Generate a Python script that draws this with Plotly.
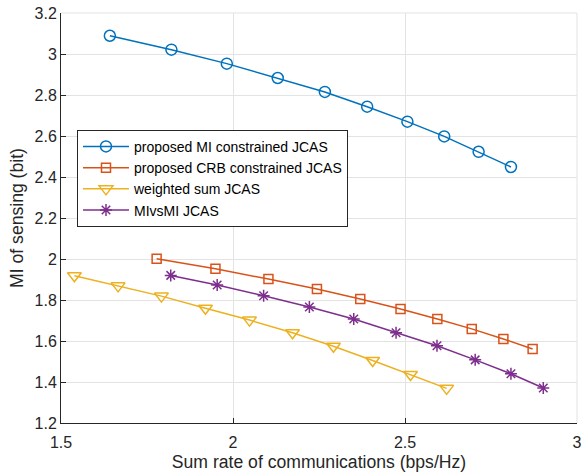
import plotly.graph_objects as go

# Sum rate of communications (bps/Hz) and MI of sensing (bit) per scheme
mi_rate = [1.642, 1.821, 1.982, 2.130, 2.267, 2.390, 2.507, 2.614, 2.714, 2.808]
mi_sense = [3.089, 3.021, 2.953, 2.883, 2.815, 2.743, 2.670, 2.598, 2.523, 2.449]

crb_rate = [1.778, 1.949, 2.103, 2.244, 2.370, 2.487, 2.594, 2.694, 2.786, 2.871]
crb_sense = [2.001, 1.952, 1.902, 1.854, 1.805, 1.756, 1.707, 1.659, 1.610, 1.561]

ws_rate = [1.539, 1.666, 1.792, 1.920, 2.048, 2.173, 2.292, 2.406, 2.516, 2.621]
ws_sense = [1.918, 1.869, 1.819, 1.760, 1.702, 1.640, 1.574, 1.505, 1.437, 1.369]

mvm_rate = [1.819, 1.954, 2.089, 2.222, 2.351, 2.474, 2.593, 2.704, 2.808, 2.902]
mvm_sense = [1.920, 1.873, 1.821, 1.766, 1.707, 1.640, 1.577, 1.508, 1.440, 1.371]

x_ticks = [1.5, 2, 2.5, 3]
x_labels = ["1.5", "2", "2.5", "3"]
y_ticks = [1.2, 1.4, 1.6, 1.8, 2.0, 2.2, 2.4, 2.6, 2.8, 3.0, 3.2]
y_labels = ["1.2", "1.4", "1.6", "1.8", "2", "2.2", "2.4", "2.6", "2.8", "3", "3.2"]

FONT = "Liberation Sans, Arial, sans-serif"
TXT = "#262626"
GRID = "#e3e3e3"

series = [
    ("proposed MI constrained JCAS", mi_rate, mi_sense, "#0072BD", "circle-open", 11),
    ("proposed CRB constrained JCAS", crb_rate, crb_sense, "#D95319", "square-open", 9),
    ("weighted sum JCAS", ws_rate, ws_sense, "#EDB120", "triangle-down-open", 12),
    ("MIvsMI JCAS", mvm_rate, mvm_sense, "#7E2F8E", "asterisk-open", 10),
]

fig = go.Figure()
for name, xs, ys, color, sym, size in series:
    fig.add_trace(go.Scatter(
        x=xs, y=ys, mode="lines+markers", name=name,
        line=dict(color=color, width=1.5),
        marker=dict(symbol=sym, size=size, color=color,
                    line=dict(color=color, width=1.5)),
    ))

fig.update_layout(
    width=587, height=475,
    margin=dict(l=61, r=5, t=13, b=52),
    paper_bgcolor="white", plot_bgcolor="white",
    font=dict(family=FONT, size=16, color=TXT),
    showlegend=True,
    legend=dict(
        x=0.031, y=0.715, xanchor="left", yanchor="top",
        bgcolor="white", bordercolor="#262626", borderwidth=1,
        font=dict(family=FONT, size=14, color="#000000"),
        itemwidth=46, tracegroupgap=0,
    ),
    xaxis=dict(
        range=[1.5, 3], tickvals=x_ticks, ticktext=x_labels,
        showgrid=True, gridcolor=GRID, gridwidth=1,
        showline=True, linecolor=TXT, linewidth=1,
        ticks="inside", ticklen=5, tickcolor=TXT,
        ticklabelstandoff=5,
        zeroline=False,
        title=dict(text="Sum rate of communications (bps/Hz)",
                   font=dict(size=17.6, color=TXT), standoff=5),
        tickfont=dict(size=16, color=TXT),
    ),
    yaxis=dict(
        range=[1.2, 3.2], tickvals=y_ticks, ticktext=y_labels,
        showgrid=True, gridcolor=GRID, gridwidth=1,
        showline=True, linecolor=TXT, linewidth=1,
        ticks="inside", ticklen=5, tickcolor=TXT,
        zeroline=False,
        title=dict(text="MI of sensing (bit)",
                   font=dict(size=17.6, color=TXT), standoff=6),
        tickfont=dict(size=16, color=TXT),
    ),
)

# light frame on top and right edges of the plotting area
fig.add_shape(type="line", xref="paper", yref="paper", x0=0, x1=1, y0=1, y1=1,
              line=dict(color=GRID, width=1), layer="below")
fig.add_shape(type="line", xref="paper", yref="paper", x0=1, x1=1, y0=0, y1=1,
              line=dict(color=GRID, width=1), layer="below")

fig.write_html("out.html")
